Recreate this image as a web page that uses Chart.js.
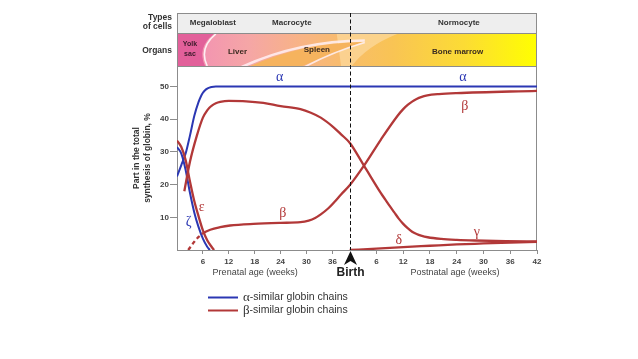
<!DOCTYPE html>
<html><head><meta charset="utf-8">
<script src="https://cdn.jsdelivr.net/npm/chart.js@4.4.1/dist/chart.umd.min.js"></script>
<style>html,body{margin:0;padding:0;background:#fff;overflow:hidden}canvas{display:block}</style>
</head><body>
<canvas id="c" width="638" height="359"></canvas>
<script>
// ---- axis definitions ----
const BIRTH = 40;            // birth on the age axis (weeks of gestation)
const POST_SCALE = 1.033;    // postnatal weeks are drawn slightly wider in the original
const prenatalTicks = [6, 12, 18, 24, 30, 36];
const postnatalTicks = [6, 12, 18, 24, 30, 36, 42];
const yTicks = [10, 20, 30, 40, 50];

// ---- series (weeks, % of total globin synthesis) ----
const alphaPreWeeks  = [0, 1, 2, 3, 4, 5, 5.5, 6, 6.5, 7, 7.5, 8, 9, 40];
const alphaPreValues = [22.5, 26, 29.5, 35, 41, 45.3, 46.9, 48.1, 48.9, 49.4, 49.7, 49.9, 50, 50];
const alphaPostWeeks  = [42];
const alphaPostValues = [50];

const zetaWeeks  = [0, 1, 2, 3, 4, 5, 6, 7, 7.6];
const zetaValues = [31.5, 29.5, 24.5, 17.5, 11.5, 7, 3.5, 1, 0];

const epsilonWeeks  = [0, 1, 2, 3, 4, 5, 6, 7, 8, 8.6];
const epsilonValues = [33.5, 31.5, 27.5, 21, 15, 10.3, 6, 3, 1, 0];

const gammaPreWeeks  = [1.7, 3, 4.6, 6, 7, 7.5, 8, 9, 10, 12, 16, 20, 24, 28.6, 31, 33.3, 36.4, 38, 40];
const gammaPreValues = [18, 27, 35, 40.5, 42.7, 43.5, 44.1, 44.9, 45.3, 45.6, 45.5, 45, 44, 43.1, 42, 40.5, 37.4, 35.4, 32.8];
const gammaPostWeeks  = [3.2, 7, 8, 9, 10, 11, 12, 13, 14, 15, 16, 17.5, 20.5, 24, 28, 35, 42];
const gammaPostValues = [25.8, 17.4, 15.4, 13.4, 11.5, 9.6, 8.0, 6.7, 5.6, 4.9, 4.4, 3.9, 3.4, 3.1, 2.9, 2.7, 2.6];

const betaPreWeeks  = [2.6, 4, 5, 6, 7.7, 10, 12.3, 17.7, 24, 28.6, 30.5, 32, 33.3, 35, 36.4, 38, 40];
const betaPreValues = [0, 2.5, 4, 5.1, 6.2, 7, 7.5, 8, 8.3, 8.5, 9.0, 9.8, 10.9, 12.7, 14.6, 17.0, 19.8];
const betaPostWeeks  = [3.2, 7, 10.7, 12, 13, 14, 15, 16, 17.4, 20, 24, 42];
const betaPostValues = [25.8, 33.8, 41, 43.1, 44.4, 45.4, 46.2, 46.8, 47.3, 47.7, 48, 48.7];

const deltaPostWeeks  = [0, 6, 12, 18, 24, 30, 36, 42];
const deltaPostValues = [0, 0.4, 0.9, 1.3, 1.7, 2.0, 2.3, 2.5];

const BETA_DASHED_UNTIL = 6; // embryonic start of beta is dashed

// ---- helpers ----
const preX = w => w;
const postX = w => BIRTH + w * POST_SCALE;
const pts = (weeks, vals, fx) => weeks.map((w, i) => ({x: fx(w), y: vals[i]}));

const BLUE = '#2b37b3';
const RED = '#b23838';
const SANS = '"Liberation Sans", Arial, sans-serif';
const SERIF = '"Liberation Serif", "DejaVu Serif", serif';

const xMax = postX(42);
const xTickValues = prenatalTicks.map(preX).concat(postnatalTicks.map(postX));

const lineBase = {pointRadius: 0, fill: false, cubicInterpolationMode: 'monotone'};

const decor = {
  id: 'decor',
  beforeDraw(chart) {
    const {ctx, chartArea: ca, scales: {x: xs}} = chart;
    const X = v => xs.getPixelForValue(v);
    const L = ca.left, R = ca.right, T = ca.top;
    const r1t = 13, r1b = 33, bt = 34, bb = T;
    ctx.save();
    // row 1 background
    ctx.fillStyle = '#eeeeee';
    ctx.fillRect(L, r1t, R - L, r1b - r1t);
    // organs band
    const g = ctx.createLinearGradient(L, 0, R, 0);
    g.addColorStop(0, '#f07ea4');
    g.addColorStop(0.08, '#f396b0');
    g.addColorStop(0.2, '#f5a6a6');
    g.addColorStop(0.35, '#f8b484');
    g.addColorStop(0.46, '#f8bc6c');
    g.addColorStop(0.6, '#f9c454');
    g.addColorStop(0.8, '#fcdc34');
    g.addColorStop(1, '#ffff00');
    ctx.fillStyle = g;
    ctx.fillRect(L, bt, R - L, bb - bt);
    ctx.beginPath();
    ctx.rect(L, bt, R - L, bb - bt);
    ctx.clip();
    // lighter zone left of bone marrow
    ctx.fillStyle = 'rgba(252,218,160,0.7)';
    ctx.beginPath();
    ctx.moveTo(X(37), bt);
    ctx.lineTo(X(51), bt);
    ctx.quadraticCurveTo(X(44), bt + 12, X(40.5), bb);
    ctx.lineTo(X(38), bb);
    ctx.closePath();
    ctx.fill();
    // spleen lens
    ctx.fillStyle = '#f6b35e';
    ctx.beginPath();
    ctx.moveTo(X(17), bb);
    ctx.quadraticCurveTo(X(29), bt + 9, X(43), bt + 8);
    ctx.quadraticCurveTo(X(36), bt + 19, X(29), bb);
    ctx.closePath();
    ctx.fill();
    ctx.strokeStyle = 'rgba(255,240,245,0.85)';
    ctx.lineWidth = 2.6;
    ctx.beginPath();
    ctx.moveTo(X(15), bb + 1);
    ctx.quadraticCurveTo(X(28), bt + 7, X(43.5), bt + 6.5);
    ctx.stroke();
    ctx.lineWidth = 1.8;
    ctx.beginPath();
    ctx.moveTo(X(29.5), bb + 1);
    ctx.quadraticCurveTo(X(36), bt + 18, X(43.5), bt + 8.5);
    ctx.stroke();
    // yolk sac
    ctx.fillStyle = '#e2609a';
    ctx.beginPath();
    ctx.moveTo(L, bt);
    ctx.lineTo(X(8.5), bt);
    ctx.quadraticCurveTo(X(4.5), bt + 14, X(6.5), bb);
    ctx.lineTo(L, bb);
    ctx.closePath();
    ctx.fill();
    ctx.strokeStyle = 'rgba(255,255,255,0.85)';
    ctx.lineWidth = 1.6;
    ctx.beginPath();
    ctx.moveTo(X(9), bt);
    ctx.quadraticCurveTo(X(5), bt + 14, X(7), bb);
    ctx.stroke();
    ctx.restore();

    ctx.save();
    // frame and separators
    ctx.strokeStyle = '#8c8c8c';
    ctx.lineWidth = 1;
    ctx.strokeRect(L + 0.5, r1t + 0.5, R - L - 1, ca.bottom - r1t);
    ctx.beginPath();
    ctx.moveTo(L, r1b + 0.5); ctx.lineTo(R, r1b + 0.5);
    ctx.moveTo(L, bb + 0.5); ctx.lineTo(R, bb + 0.5);
    ctx.stroke();
    // header texts
    ctx.fillStyle = '#333';
    ctx.textBaseline = 'middle';
    ctx.font = 'bold 8.5px ' + SANS;
    ctx.textAlign = 'right';
    ctx.fillText('Types', L - 5, 18);
    ctx.fillText('of cells', L - 5, 27);
    ctx.fillText('Organs', L - 5, 51);
    ctx.textAlign = 'center';
    ctx.font = 'bold 8px ' + SANS;
    ctx.fillText('Megaloblast', X(8.3), 23);
    ctx.fillText('Macrocyte', X(26.6), 23);
    ctx.fillText('Normocyte', X(65.3), 23);
    ctx.fillStyle = '#3a2a20';
    ctx.fillText('Liver', X(14), 52);
    ctx.fillText('Spleen', X(32.4), 50);
    ctx.fillText('Bone marrow', X(65), 52);
    ctx.font = 'bold 7px ' + SANS;
    ctx.fillStyle = '#3a1a2a';
    ctx.fillText('Yolk', X(3), 44);
    ctx.fillText('sac', X(3), 54);
    ctx.restore();
  },
  afterDatasetsDraw(chart) {
    const {ctx, chartArea: ca, scales: {x: xs, y: ys}} = chart;
    const X = v => xs.getPixelForValue(v);
    const Y = v => ys.getPixelForValue(v);
    ctx.save();
    // birth line
    const bx = Math.round(X(BIRTH)) + 0.5;
    ctx.strokeStyle = '#111';
    ctx.lineWidth = 1;
    ctx.setLineDash([4, 2.5]);
    ctx.beginPath();
    ctx.moveTo(bx, 13); ctx.lineTo(bx, ca.bottom);
    ctx.stroke();
    ctx.setLineDash([]);
    // arrow
    ctx.fillStyle = '#111';
    ctx.beginPath();
    ctx.moveTo(bx, ca.bottom + 1);
    ctx.lineTo(bx + 6.5, ca.bottom + 15);
    ctx.lineTo(bx, ca.bottom + 11);
    ctx.lineTo(bx - 6.5, ca.bottom + 15);
    ctx.closePath();
    ctx.fill();
    // greek labels
    ctx.textAlign = 'center';
    ctx.textBaseline = 'middle';
    ctx.font = '14px ' + SERIF;
    const labels = [
      ['α', BLUE, 23.8, 52.8], ['α', BLUE, postX(25.4), 52.8],
      ['β', RED, postX(25.8), 44], ['β', RED, 24.5, 11.2],
      ['ε', RED, 5.7, 13], ['ζ', BLUE, 2.7, 8.4],
      ['δ', RED, postX(11), 2.9], ['γ', RED, postX(28.5), 5.4]
    ];
    labels.forEach(([t, c, x, y]) => { ctx.fillStyle = c; ctx.fillText(t, X(x), Y(y)); });
    // axis captions
    ctx.fillStyle = '#444';
    ctx.font = '9px ' + SANS;
    ctx.fillText('Prenatal age (weeks)', X(18.1), 273);
    ctx.fillText('Postnatal age (weeks)', X(64.4), 273);
    ctx.fillStyle = '#222';
    ctx.font = 'bold 12px ' + SANS;
    ctx.fillText('Birth', bx, 273);
    // legend
    const items = [['α', '-similar globin chains', BLUE, 297.5], ['β', '-similar globin chains', RED, 310.5]];
    items.forEach(([g, t, c, y]) => {
      ctx.strokeStyle = c; ctx.lineWidth = 2;
      ctx.beginPath(); ctx.moveTo(208, y); ctx.lineTo(238, y); ctx.stroke();
      ctx.textAlign = 'left';
      ctx.fillStyle = '#333';
      ctx.font = '13px ' + SERIF;
      ctx.fillText(g, 243, y);
      const w = ctx.measureText(g).width;
      ctx.font = '10.5px ' + SANS;
      ctx.fillText(t, 243 + w, y);
    });
    ctx.restore();
  }
};

new Chart(document.getElementById('c'), {
  type: 'line',
  data: {
    datasets: [
      Object.assign({label: 'ε', data: pts(epsilonWeeks, epsilonValues, preX), borderColor: RED, borderWidth: 2.3}, lineBase),
      Object.assign({label: 'γ', data: pts(gammaPreWeeks, gammaPreValues, preX).concat(pts(gammaPostWeeks, gammaPostValues, postX)), borderColor: RED, borderWidth: 2.3}, lineBase),
      Object.assign({label: 'β', data: pts(betaPreWeeks, betaPreValues, preX).concat(pts(betaPostWeeks, betaPostValues, postX)), borderColor: RED, borderWidth: 2.3,
        segment: {borderDash: c => c.p1.parsed.x <= BETA_DASHED_UNTIL ? [4, 3] : undefined}}, lineBase),
      Object.assign({label: 'δ', data: pts(deltaPostWeeks, deltaPostValues, postX), borderColor: RED, borderWidth: 2.3}, lineBase),
      Object.assign({label: 'ζ', data: pts(zetaWeeks, zetaValues, preX), borderColor: BLUE, borderWidth: 2}, lineBase),
      Object.assign({label: 'α', data: pts(alphaPreWeeks, alphaPreValues, preX).concat(pts(alphaPostWeeks, alphaPostValues, postX)), borderColor: BLUE, borderWidth: 2}, lineBase)
    ]
  },
  options: {
    responsive: false,
    animation: false,
    devicePixelRatio: 1,
    layout: {padding: {left: 120, top: 66, right: 101, bottom: 0}},
    plugins: {legend: {display: false}, tooltip: {enabled: false}},
    scales: {
      x: {
        type: 'linear', min: 0, max: xMax,
        afterBuildTicks: s => { s.ticks = xTickValues.map(v => ({value: v})); },
        afterFit: s => { s.height = 109; },
        ticks: {
          callback: v => v < BIRTH ? String(v) : String(Math.round((v - BIRTH) / POST_SCALE)),
          font: {family: SANS, size: 8, weight: 'bold'}, color: '#444', padding: 3, maxRotation: 0, autoSkip: false
        },
        grid: {drawOnChartArea: false, tickLength: 4, color: '#8c8c8c'},
        border: {color: '#8c8c8c'}
      },
      y: {
        type: 'linear', min: 0, max: 56.3,
        afterBuildTicks: s => { s.ticks = yTicks.map(v => ({value: v})); },
        afterFit: s => { s.width = 57; },
        ticks: {font: {family: SANS, size: 8, weight: 'bold'}, color: '#444', padding: 1},
        grid: {drawOnChartArea: false, tickLength: 7, color: '#8c8c8c'},
        border: {color: '#8c8c8c'},
        title: {display: true, text: ['Part in the total', 'synthesis of globin, %'],
          font: {family: SANS, size: 8.5, weight: 'bold', lineHeight: 1.3}, color: '#333', padding: {top: 11, bottom: 0}}
      }
    }
  },
  plugins: [decor]
});
</script>
</body></html>
